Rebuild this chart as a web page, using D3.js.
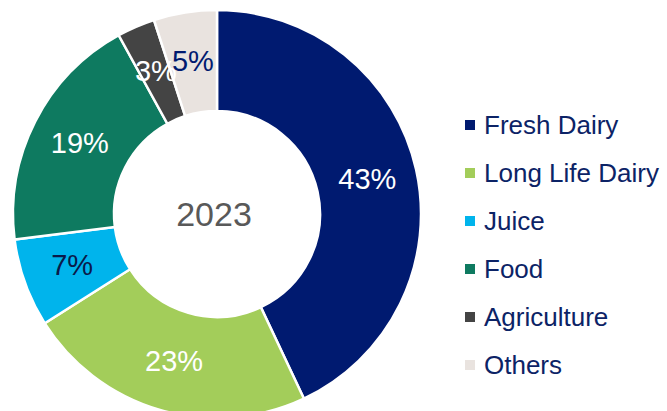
<!DOCTYPE html>
<html>
<head>
<meta charset="utf-8">
<script src="https://cdn.jsdelivr.net/npm/d3@7"></script>
<style>
  body { margin: 0; background: #fff; }
  svg { display: block; font-family: "Liberation Sans", Arial, sans-serif; }
</style>
</head>
<body>
<svg id="chart" width="667" height="411"></svg>
<script>
// segment data, clockwise from 12 o'clock
var categories = ["Fresh Dairy", "Long Life Dairy", "Juice", "Food", "Agriculture", "Others"];
var shares = [43, 23, 7, 19, 3, 5];
var colors = ["#001a70", "#a3cd5a", "#00b4ec", "#0e7a60", "#444444", "#e9e3df"];
var labelColors = ["#ffffff", "#ffffff", "#0a1a4a", "#ffffff", "#ffffff", "#001a70"];
var centerLabel = "2023";

var svg = d3.select("#chart");
var cx = 217, cy = 214;
var outerR = 204, innerR = 103;

var pie = d3.pie().sort(null).value(d => d);
var arcs = pie(shares);

var arc = d3.arc().innerRadius(innerR).outerRadius(outerR);
var labelArc = d3.arc().innerRadius(154).outerRadius(154);

var g = svg.append("g").attr("transform", "translate(" + cx + "," + cy + ")");

g.selectAll("path.slice")
  .data(arcs)
  .enter().append("path")
  .attr("class", "slice")
  .attr("d", arc)
  .attr("fill", (d, i) => colors[i])
  .attr("stroke", "#fff")
  .attr("stroke-width", 2.5)
  .attr("stroke-linejoin", "miter");

g.selectAll("text.pct")
  .data(arcs)
  .enter().append("text")
  .attr("class", "pct")
  .attr("transform", d => "translate(" + labelArc.centroid(d) + ")")
  .attr("text-anchor", "middle")
  .attr("dy", "0.3em")
  .attr("font-size", 29)
  .attr("fill", (d, i) => labelColors[i])
  .text(d => d.data + "%");

g.append("text")
  .attr("x", -3)
  .attr("text-anchor", "middle")
  .attr("dy", "0.36em")
  .attr("font-size", 34)
  .attr("fill", "#595959")
  .text(centerLabel);

// legend
var legendY = d3.scalePoint().domain(categories).range([125, 365]);
var legend = svg.selectAll("g.leg")
  .data(categories)
  .enter().append("g")
  .attr("class", "leg")
  .attr("transform", d => "translate(465," + legendY(d) + ")");

legend.append("rect")
  .attr("x", 0).attr("y", -5)
  .attr("width", 10).attr("height", 10)
  .attr("fill", (d, i) => colors[i]);

legend.append("text")
  .attr("x", 19)
  .attr("y", 8.5)
  .attr("font-size", 26)
  .attr("fill", "#0c2366")
  .text(d => d);
</script>
</body>
</html>
